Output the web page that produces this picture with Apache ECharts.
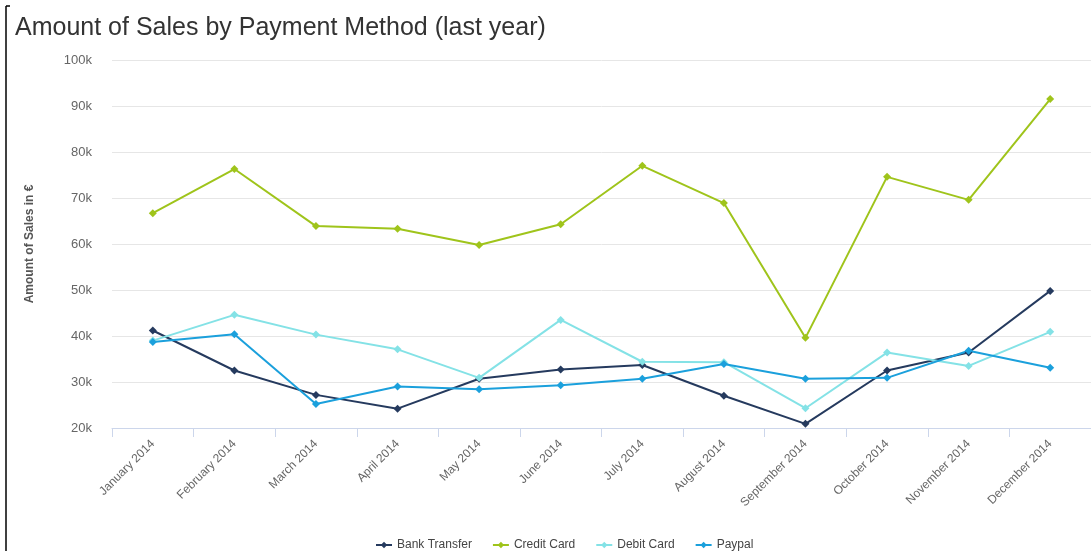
<!DOCTYPE html>
<html>
<head>
<meta charset="utf-8">
<script src="https://cdn.jsdelivr.net/npm/echarts@6/dist/echarts.min.js"></script>
<style>
html,body{margin:0;padding:0;background:#fff;}
#c{width:1091px;height:551px;}
</style>
</head>
<body>
<div id="c"></div>
<script>
var categories = ['January 2014','February 2014','March 2014','April 2014','May 2014','June 2014','July 2014','August 2014','September 2014','October 2014','November 2014','December 2014'];
var bankTransfer = [41200, 32500, 27200, 24200, 30700, 32700, 33700, 27000, 20900, 32500, 36400, 49800];
var creditCard = [66700, 76300, 63900, 63300, 59800, 64300, 77000, 68900, 39600, 74600, 69600, 91500];
var debitCard = [39000, 44600, 40300, 37100, 30900, 43500, 34400, 34300, 24300, 36400, 33500, 40900];
var paypal = [38700, 40400, 25200, 29000, 28400, 29300, 30700, 33900, 30700, 30900, 36800, 33100];
var yTicks = {min: 20000, max: 100000, interval: 10000};

var colors = ['#253a5e', '#9fc41b', '#84e2e6', '#1ba0dc'];
function mk(name, data, color) {
  return {
    name: name, type: 'line', data: data,
    symbol: 'diamond', symbolSize: 8,
    lineStyle: {width: 2, color: color},
    itemStyle: {color: color},
    emphasis: {disabled: true}
  };
}
var chart = echarts.init(document.getElementById('c'), null, {renderer: 'canvas'});
chart.setOption({
  animation: false,
  backgroundColor: '#ffffff',
  title: {
    text: 'Amount of Sales by Payment Method (last year)',
    left: 10, top: 11,
    textStyle: {fontFamily: 'Liberation Sans, Arial, sans-serif', fontSize: 25, fontWeight: 'normal', color: '#333333'}
  },
  legend: {
    top: 534, left: 370,
    itemWidth: 16, itemHeight: 8, itemGap: 20,
    textStyle: {fontFamily: 'Liberation Sans, Arial, sans-serif', fontSize: 12, color: '#444'},
    data: ['Bank Transfer', 'Credit Card', 'Debit Card', 'Paypal']
  },
  grid: {left: 112, top: 60, width: 986, height: 368, containLabel: false},
  xAxis: {
    type: 'category', data: categories, boundaryGap: true,
    axisLine: {lineStyle: {color: '#ccd6eb'}},
    axisTick: {show: true, length: 9, lineStyle: {color: '#ccd6eb'}},
    axisLabel: {rotate: 45, interval: 0, color: '#666', fontSize: 12, margin: 14, fontFamily: 'Liberation Sans, Arial, sans-serif'}
  },
  yAxis: {
    type: 'value', min: yTicks.min, max: yTicks.max, interval: yTicks.interval,
    name: 'Amount of Sales in €', nameLocation: 'middle', nameGap: 76, nameRotate: 90,
    nameTextStyle: {fontFamily: 'Liberation Sans, Arial, sans-serif', fontSize: 12, fontWeight: 'bold', color: '#555'},
    axisLine: {show: false}, axisTick: {show: false},
    splitLine: {lineStyle: {color: '#e6e6e6'}},
    axisLabel: {color: '#666', fontSize: 13, margin: 20, fontFamily: 'Liberation Sans, Arial, sans-serif',
      formatter: function (v) { return (v / 1000) + 'k'; }}
  },
  graphic: [
    {type: 'line', shape: {x1: 6, y1: 6, x2: 6, y2: 551}, style: {stroke: '#000', lineWidth: 1.5}},
    {type: 'line', shape: {x1: 6, y1: 6, x2: 10, y2: 6}, style: {stroke: '#000', lineWidth: 1.5}}
  ],
  series: [
    mk('Bank Transfer', bankTransfer, colors[0]),
    mk('Credit Card', creditCard, colors[1]),
    mk('Debit Card', debitCard, colors[2]),
    mk('Paypal', paypal, colors[3])
  ]
});
</script>
</body>
</html>
